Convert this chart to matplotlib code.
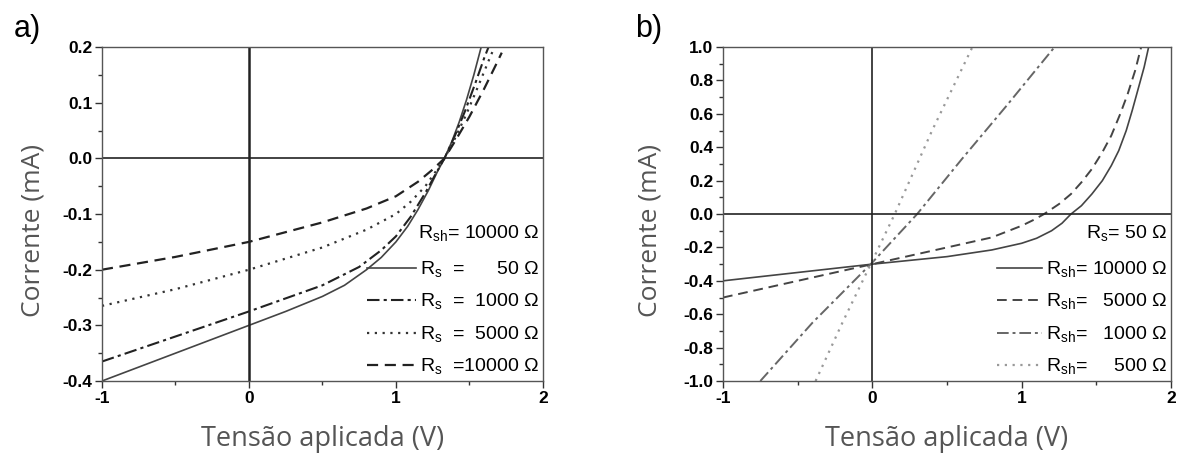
import matplotlib
matplotlib.use("Agg")
import matplotlib.pyplot as plt
from matplotlib.ticker import MultipleLocator, FormatStrFormatter

plt.rcParams['font.family'] = ['Liberation Sans', 'DejaVu Sans']
plt.rcParams['mathtext.fontset'] = 'custom'
plt.rcParams['mathtext.rm'] = 'Liberation Sans'

# a) varying Rs (Rsh = 10000 ohm)
va_50 = [-1.0, -0.75, -0.5, -0.25, 0.0, 0.25, 0.5, 0.65, 0.8, 0.9, 1.0, 1.08, 1.15,
         1.22, 1.28, 1.33, 1.38, 1.43, 1.48, 1.53, 1.58]
ia_50 = [-0.40, -0.375, -0.35, -0.325, -0.30, -0.275, -0.248, -0.228, -0.20, -0.178,
         -0.15, -0.122, -0.092, -0.058, -0.025, 0.0, 0.03, 0.065, 0.105, 0.15, 0.20]
va_1000 = [-1.0, -0.5, 0.0, 0.5, 0.75, 0.9, 1.0, 1.1, 1.2, 1.27, 1.33, 1.4, 1.47, 1.54, 1.6, 1.63]
ia_1000 = [-0.365, -0.32, -0.275, -0.228, -0.195, -0.165, -0.14, -0.105, -0.062, -0.028,
           0.0, 0.04, 0.085, 0.135, 0.18, 0.20]
va_5000 = [-1.0, -0.5, 0.0, 0.5, 0.8, 1.0, 1.1, 1.2, 1.28, 1.33, 1.4, 1.48, 1.56, 1.63, 1.67]
ia_5000 = [-0.265, -0.235, -0.20, -0.16, -0.128, -0.10, -0.078, -0.05, -0.02, 0.0, 0.035,
           0.08, 0.13, 0.175, 0.20]
va_10000 = [-1.0, -0.5, 0.0, 0.5, 0.8, 1.0, 1.15, 1.25, 1.33, 1.4, 1.5, 1.6, 1.68, 1.72]
ia_10000 = [-0.20, -0.177, -0.15, -0.115, -0.09, -0.068, -0.042, -0.02, 0.0, 0.03, 0.075,
            0.125, 0.168, 0.19]

# b) varying Rsh (Rs = 50 ohm)
vb_10000 = [-1.0, -0.5, 0.0, 0.5, 0.8, 1.0, 1.1, 1.2, 1.27, 1.33, 1.4, 1.47, 1.54, 1.6,
            1.65, 1.7, 1.74, 1.78, 1.82, 1.85]
ib_10000 = [-0.40, -0.35, -0.30, -0.255, -0.215, -0.175, -0.145, -0.10, -0.055, 0.0, 0.05,
            0.12, 0.20, 0.29, 0.38, 0.50, 0.62, 0.75, 0.88, 1.0]
vb_5000 = [-1.0, -0.5, 0.0, 0.5, 0.8, 1.0, 1.08, 1.15, 1.25, 1.33, 1.4, 1.47, 1.54, 1.6,
           1.66, 1.71, 1.76, 1.80]
ib_5000 = [-0.50, -0.40, -0.30, -0.20, -0.14, -0.07, -0.035, 0.0, 0.06, 0.12, 0.19, 0.27,
           0.37, 0.47, 0.60, 0.72, 0.86, 1.0]
vb_1000 = [-0.75, -0.4, 0.0, 0.3, 0.6, 0.9, 1.22]
ib_1000 = [-1.0, -0.65, -0.29, 0.0, 0.33, 0.65, 1.0]
vb_500 = [-0.38, -0.2, 0.0, 0.15, 0.4, 0.67]
ib_500 = [-1.0, -0.65, -0.28, 0.0, 0.5, 1.0]

labels_a = ["R$_\\mathrm{s}$  =      50 \u03a9", "R$_\\mathrm{s}$  =  1000 \u03a9",
            "R$_\\mathrm{s}$  =  5000 \u03a9", "R$_\\mathrm{s}$  =10000 \u03a9"]
title_a = "R$_\\mathrm{sh}$= 10000 \u03a9"
labels_b = ["R$_\\mathrm{sh}$= 10000 \u03a9", "R$_\\mathrm{sh}$=   5000 \u03a9",
            "R$_\\mathrm{sh}$=   1000 \u03a9", "R$_\\mathrm{sh}$=     500 \u03a9"]
title_b = "R$_\\mathrm{s}$= 50 \u03a9"

fig = plt.figure(figsize=(11.8, 4.69), dpi=100)
ax1 = fig.add_axes([0.0864, 0.1876, 0.3737, 0.712])
ax2 = fig.add_axes([0.6127, 0.1876, 0.3797, 0.712])

dash = (0, (5, 3))
dashdot = (0, (6, 2, 1.5, 2))
dot = (0, (1, 2.5))

ax1.plot(va_50, ia_50, color='#444444', lw=1.2, ls='-', label=labels_a[0])
ax1.plot(va_1000, ia_1000, color='#222222', lw=1.5, ls=dashdot, label=labels_a[1])
ax1.plot(va_5000, ia_5000, color='#333333', lw=1.6, ls=dot, label=labels_a[2])
ax1.plot(va_10000, ia_10000, color='#222222', lw=1.6, ls=dash, label=labels_a[3])

ax2.plot(vb_10000, ib_10000, color='#444444', lw=1.2, ls='-', label=labels_b[0])
ax2.plot(vb_5000, ib_5000, color='#444444', lw=1.4, ls=dash, label=labels_b[1])
ax2.plot(vb_1000, ib_1000, color='#666666', lw=1.4, ls=dashdot, label=labels_b[2])
ax2.plot(vb_500, ib_500, color='#999999', lw=1.6, ls=dot, label=labels_b[3])

panels = [
    (ax1, (-0.4, 0.2), 0.1, 0.05, title_a, "a)", -0.129, -0.20, 2.5),
    (ax2, (-1.0, 1.0), 0.2, 0.1, title_b, "b)", -0.136, -0.197, 2.3),
]
for ax, lim, major, minor, title, tag, ylab_x, tag_x, hlen in panels:
    ax.set_xlim(-1, 2)
    ax.set_ylim(*lim)
    ax.axhline(0, color='#222222', lw=1.2)
    ax.axvline(0, color='#222222', lw=1.8 if ax is ax1 else 1.2)
    ax.xaxis.set_major_locator(MultipleLocator(1))
    ax.xaxis.set_minor_locator(MultipleLocator(0.5))
    ax.yaxis.set_major_locator(MultipleLocator(major))
    ax.yaxis.set_minor_locator(MultipleLocator(minor))
    ax.yaxis.set_major_formatter(FormatStrFormatter('%.1f'))
    ax.xaxis.set_major_formatter(FormatStrFormatter('%d'))
    ax.tick_params(which='major', direction='out', length=5, width=1, color='#333333',
                   labelsize=12.5, pad=2)
    ax.tick_params(which='minor', direction='out', length=3, width=1, color='#333333')
    for t in ax.get_xticklabels() + ax.get_yticklabels():
        t.set_fontweight('bold')
    for s in ax.spines.values():
        s.set_color('#555555')
        s.set_linewidth(1.0)
    ax.set_xlabel("Tens\u00e3o aplicada (V)", fontsize=19.5, color='#555555',
                  family=['Open Sans', 'DejaVu Sans'], labelpad=14)
    ax.set_ylabel("Corrente (mA)", fontsize=19, color='#555555',
                  family=['Open Sans', 'DejaVu Sans'])
    ax.yaxis.set_label_coords(ylab_x, 0.45)
    leg = ax.legend(loc='lower right', frameon=False, fontsize=14, title=title,
                    title_fontsize=14, alignment='right', handlelength=hlen,
                    handletextpad=0.2, labelspacing=0.62, borderaxespad=0.0,
                    borderpad=0.2)
    leg._legend_box.sep = leg._legend_box.sep + 3
    ax.text(tag_x, 1.10, tag, transform=ax.transAxes,
            fontsize=22, va='top', ha='left')

fig.savefig("out.png", dpi=100)
